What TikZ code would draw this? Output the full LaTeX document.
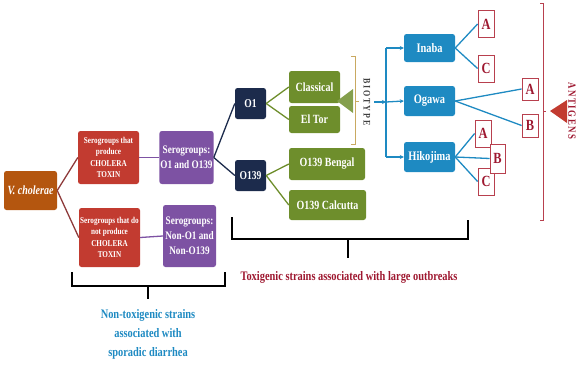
\documentclass[tikz,border=0pt]{standalone}
\usepackage{fontspec}
\setmainfont{Liberation Serif}
\newfontfamily\cf{Liberation Serif}[FakeStretch=0.8]
\usetikzlibrary{arrows.meta}
\definecolor{vcol}{HTML}{B4560F}
\definecolor{rcol}{HTML}{C23B30}
\definecolor{pcol}{HTML}{7D52A3}
\definecolor{ncol}{HTML}{1C2B4C}
\definecolor{gcol}{HTML}{6E8E2C}
\definecolor{bcol}{HTML}{1E8AC2}
\definecolor{lred}{HTML}{B8404E}
\definecolor{ltxt}{HTML}{9E1830}
\definecolor{tan}{HTML}{C9A961}
\definecolor{brn}{HTML}{8E3A3A}
\begin{document}
\begin{tikzpicture}[x=1pt,y=-1pt,
  box/.style={rounded corners=2.5pt, inner sep=1pt, align=center, text=white, font=\cf\bfseries},
  vbox/.style={box, fill=vcol, minimum width=53pt, minimum height=39pt, font=\cf\bfseries\itshape\fontsize{12.5}{13}\selectfont},
  rbox/.style={box, fill=rcol, minimum width=61pt, font=\cf\bfseries\fontsize{9}{11.5}\selectfont},
  pbox/.style={box, fill=pcol, minimum width=53pt, font=\cf\bfseries\fontsize{11.5}{15}\selectfont},
  nbox/.style={box, fill=ncol, minimum width=31pt, minimum height=31pt, font=\cf\bfseries\fontsize{12}{12}\selectfont},
  gbox/.style={box, fill=gcol, font=\cf\bfseries\fontsize{12.5}{13}\selectfont},
  bbox/.style={box, fill=bcol, minimum width=51pt, font=\cf\bfseries\fontsize{13}{13}\selectfont},
  lbox/.style={draw=lred, line width=0.8pt, fill=white, text=ltxt, inner sep=0pt, minimum width=16pt, minimum height=27pt, font=\cf\bfseries\fontsize{15.5}{15}\selectfont},
  conn/.style={line width=1.3pt},
  brace/.style={line width=1.2pt, black},
  bar/.style={-{Stealth[length=4pt,width=4pt]}, bcol, line width=1.3pt}
]
\useasboundingbox (0,0) rectangle (577,364);
% nodes
\node[vbox] (vc) at (30.5,190.5) {V. cholerae};
\node[rbox, minimum height=53pt] (r1) at (108.5,157.5) {Serogroups that\\produce\\CHOLERA\\TOXIN};
\node[rbox, minimum height=59pt] (r2) at (109.5,237.5) {Serogroups that do\\not produce\\CHOLERA\\TOXIN};
\node[pbox, minimum height=53pt] (p1) at (186.5,157.5) {Serogroups:\\O1 and O139};
\node[pbox, minimum height=62pt] (p2) at (189.5,236) {Serogroups:\\Non-O1 and\\Non-O139};
\node[nbox] (o1) at (250.5,103.5) {O1};
\node[nbox] (o139) at (250.5,175.5) {O139};
\node[gbox, minimum width=51pt, minimum height=32pt] (cl) at (314.5,87) {Classical};
\node[gbox, minimum width=51pt, minimum height=27pt] (et) at (314.5,119.5) {El Tor};
\node[gbox, minimum width=76pt, minimum height=32pt] (bg) at (327,164) {O139 Bengal};
\node[gbox, minimum width=77pt, minimum height=30pt] (ca) at (327.5,205) {O139 Calcutta};
\node[bbox, minimum height=28pt] (in) at (429.5,48) {Inaba};
\node[bbox, minimum height=30pt] (og) at (429.5,101) {Ogawa};
\node[bbox, minimum height=30pt] (hk) at (429.5,157) {Hikojima};
\node[lbox] (ia) at (486,24) {A};
\node[lbox] (ic) at (486,68.5) {C};
\node[lbox, minimum height=22pt] (oa) at (530,89) {A};
\node[lbox, minimum height=23pt] (ob) at (530,125.5) {B};
\node[lbox] (ha) at (483,133.5) {A};
\node[lbox] (hc) at (486,181.5) {C};
% connectors
\draw[conn, brn] (vc.east) -- (r1.west);
\draw[conn, brn] (vc.east) -- (r2.west);
\draw[conn, pcol] (r1.east) -- (p1.west);
\draw[conn, pcol] (r2.east) -- (p2.west);
\draw[conn, ncol] (p1.east) -- (o1.west);
\draw[conn, ncol] (p1.east) -- (o139.west);
\draw[conn, gcol] (o1.east) -- (cl.west);
\draw[conn, gcol] (o1.east) -- (et.west);
\draw[conn, gcol] (o139.east) -- (bg.west);
\draw[conn, gcol] (o139.east) -- (ca.west);
\draw[conn, bcol] (in.east) -- (ia.west);
\draw[conn, bcol] (in.east) -- (ic.west);
\draw[conn, bcol] (og.east) -- (oa.west);
\draw[conn, bcol] (og.east) -- (ob.west);
\draw[conn, bcol] (hk.east) -- (ha.west);
\draw[conn, bcol] (hk.east) -- (hc.west);
\node[lbox, minimum width=15pt, minimum height=29pt] (hb) at (497.5,158.5) {B};
\draw[conn, bcol] (hk.east) -- (hb.west);
% biotype bracket and triangle
\coordinate (bt1) at (355,56);
\coordinate (bt2) at (355,144);
\draw[tan, line width=1pt] ([xshift=-4pt]bt1) -- (bt1) -- (bt2) -- ([xshift=-4pt]bt2);
\draw[tan, line width=1pt] (355,101) -- (359,101);
\fill[gcol!85!white] (337,101) -- (353,89) -- (353,113) -- cycle;
\node[rotate=-90, text=black!75, font=\cf\bfseries\fontsize{10}{10}\selectfont\addfontfeature{LetterSpace=18}] (bio) at (367,102) {BIOTYPE};
% blue arrows
\coordinate (bs) at (374,102);
\coordinate (bv) at (386,102);
\draw[bar] (bs) -- (bv);
\draw[bcol, line width=1.3pt] (bv |- in.west) -- (bv |- hk.west);
\draw[bar] (bv |- in.west) -- (in.west);
\draw[bar] (bv) -- (og.west);
\draw[bar] (bv |- hk.west) -- (hk.west);
% antigens bracket
\coordinate (ag1) at (543,3);
\coordinate (ag2) at (543,220);
\draw[lred, line width=1pt] ([xshift=-3pt]ag1) -- (ag1) -- (ag2) -- ([xshift=-3pt]ag2);
\draw[lred, line width=1pt] (543,111) -- (546,111);
\fill[rcol] (550,111) -- (567,100) -- (567,123) -- cycle;
\node[rotate=-90, text=ltxt, font=\cf\bfseries\fontsize{11}{11}\selectfont\addfontfeature{LetterSpace=15}] (ant) at (572,111) {ANTIGENS};
% big brace
\draw[brace] (232,217) -- (232,239) -- (468,239) -- (468,220);
\draw[brace] (348,239) -- (348,258);
\node[text=ltxt, font=\cf\bfseries\fontsize{13}{13}\selectfont] (tox) at (349,277) {Toxigenic strains associated with large outbreaks};
% small brace
\draw[brace] (72,272) -- (72,286) -- (225,286) -- (225,272);
\draw[brace] (148,286) -- (148,299);
\node[text=bcol, align=center, font=\cf\bfseries\fontsize{13}{19}\selectfont] (ntx) at (148,334) {Non-toxigenic strains\\associated with\\sporadic diarrhea};
\end{tikzpicture}
\end{document}
